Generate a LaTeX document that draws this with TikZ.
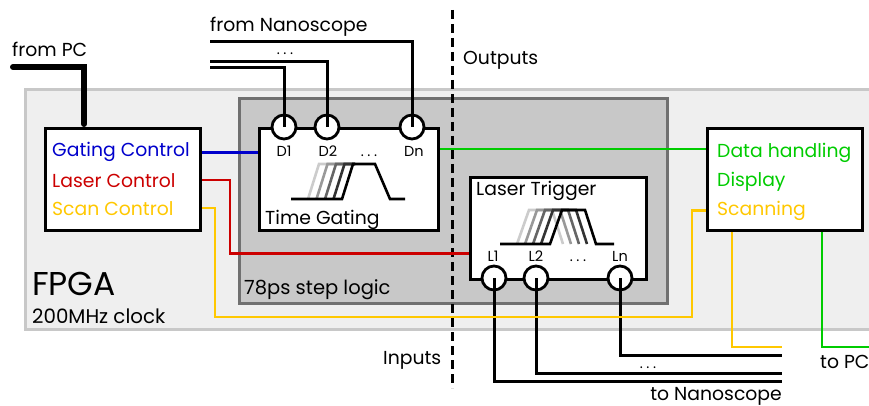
\documentclass[tikz,border=0pt]{standalone}
\usepackage{fontspec}
\setmainfont{Poppins}
\usepackage{xcolor}
\usetikzlibrary{positioning}
\definecolor{ctlblue}{RGB}{0,0,204}
\definecolor{ctlred}{RGB}{204,0,0}
\definecolor{ctlyellow}{RGB}{255,200,0}
\definecolor{ctlgreen}{RGB}{0,204,0}
\definecolor{fpgafill}{RGB}{239,239,239}
\definecolor{fpgaedge}{RGB}{200,200,200}
\definecolor{stepfill}{RGB}{200,200,200}
\definecolor{stepedge}{RGB}{112,112,112}
\newcommand{\spdots}{.\hspace{3.5pt}.\hspace{3.5pt}.}

\begin{document}
\begin{tikzpicture}[x=1pt, y=-1pt, font=\fontsize{18.8}{22}\selectfont,
  blk/.style={draw, line width=3pt, fill=white, anchor=north west, inner sep=0pt},
  port/.style={circle, draw, line width=2.8pt, fill=white, minimum size=24pt, inner sep=0pt},
  lbl/.style={anchor=base west, inner sep=0pt},
  plbl/.style={anchor=base, inner sep=0pt, font=\fontsize{14.5}{16}\selectfont},
  wire/.style={line width=3pt},
  sig/.style={line width=2.6pt},
  pulse/.style={line width=2.6pt}]
\clip (0,0) rectangle (869,406);
\node[blk, draw=fpgaedge, fill=fpgafill, minimum width=880pt, minimum height=240pt] (fpga) at (24,88) {};
\node[blk, draw=stepedge, fill=stepfill, minimum width=428pt, minimum height=205pt] (steplogic) at (238,97) {};
\coordinate (divtop) at (452,10);
\coordinate (divbot) at (452,388);
\draw[line width=3pt, dash pattern=on 9pt off 5pt] (divtop) -- (divbot);
\node[blk, minimum width=155pt, minimum height=102pt] (ctrl) at (44,127) {};
\node[blk, minimum width=179pt, minimum height=102pt] (gating) at (258,127) {};
\node[blk, minimum width=176pt, minimum height=102pt] (trigger) at (469,176) {};
\node[blk, minimum width=155pt, minimum height=102pt] (data) at (706,127) {};
% texts
\node[lbl, font=\fontsize{33}{36}\selectfont] (fpgatxt) at (32,295) {FPGA};
\node[lbl, font=\fontsize{19.8}{22}\selectfont] (clk) at (32,323) {200MHz clock};
\node[lbl, font=\fontsize{19.5}{22}\selectfont] (steptxt) at (244,294) {78ps step logic};
\node[lbl, text=ctlblue] (gatctl) at (52,157) {Gating Control};
\node[lbl, text=ctlred] (lasctl) at (52,187) {Laser Control};
\node[lbl, text=ctlyellow] (scanctl) at (52,215) {Scan Control};
\node[lbl] (tgtxt) at (265,224) {Time Gating};
\node[lbl] (lttxt) at (476,195) {Laser Trigger};
\node[lbl, text=ctlgreen] (datatxt) at (717,158) {Data handling};
\node[lbl, text=ctlgreen] (disptxt) at (717,186) {Display};
\node[lbl, text=ctlyellow] (scantxt) at (717,215) {Scanning};
\node[lbl] (frompc) at (12,57) {from PC};
\node[lbl] (fromscope) at (210,32) {from Nanoscope};
\node[lbl] (outtxt) at (463,65) {Outputs};
\node[lbl] (intxt) at (383,364) {Inputs};
\node[anchor=base east, inner sep=0pt] (toscope) at (782,400) {to Nanoscope};
\node[lbl] (topc) at (820,368) {to PC};
% ports
\node[port] (d1) at (284,127) {};
\node[port] (d2) at (327,127) {};
\node[port] (dn) at (412,127) {};
\node[port] (l1) at (494,278) {};
\node[port] (l2) at (536,278) {};
\node[port] (ln) at (620,278) {};
\node[plbl] (d1txt) at (284,157) {D1};
\node[plbl] (d2txt) at (328,157) {D2};
\node[plbl] (ddots) at (369,157) {\spdots};
\node[plbl] (dntxt) at (414,157) {Dn};
\node[plbl] (l1txt) at (493,261) {L1};
\node[plbl] (l2txt) at (536,261) {L2};
\node[plbl] (ldots) at (578,261) {\spdots};
\node[plbl] (lntxt) at (620,261) {Ln};
\node[plbl] (indots) at (285,55) {\spdots};
\node[plbl] (outdots) at (648,368) {\spdots};
% pulses
\draw[pulse, black!20] (308,199) -- (319,164) -- (355,164);
\draw[pulse, black!40] (316.5,199) -- (327.5,164) -- (355,164);
\draw[pulse, black!60] (325,199) -- (336,164) -- (355,164);
\draw[pulse, black!80] (333.5,199) -- (344.5,164) -- (355,164);
\draw[pulse] (291,199) -- (342,199) -- (353,164) -- (375,164) -- (390,199) -- (405,199);
\draw[pulse, black!20] (517,244) -- (529,210) -- (552,210) -- (563,244);
\draw[pulse, black!40] (525,244) -- (537,210) -- (560,210) -- (571,244);
\draw[pulse, black!60] (533,244) -- (545,210) -- (568,210) -- (579,244);
\draw[pulse, black!80] (541,244) -- (553,210) -- (576,210) -- (587,244);
\draw[pulse] (500,244) -- (550,244) -- (562,210) -- (585,210) -- (596,244) -- (614,244);
% connectors
\coordinate (pc) at (13,67);
\coordinate (nanoA) at (210,42);
\coordinate (nanoB) at (210,62);
\coordinate (nanoC) at (210,68);
\coordinate (scopeA) at (782,355);
\coordinate (scopeB) at (782,373);
\coordinate (scopeC) at (782,381);
\coordinate (scanturn) at (692,317);
\coordinate (pcA) at (782,347);
\coordinate (pcB) at (880,347);
\draw[line width=6pt, line cap=round] (pc) -| ([xshift=40pt, yshift=3pt]ctrl.north west);
\draw[wire] (nanoA) -| (dn.center);
\draw[wire] (nanoB) -| (d2.center);
\draw[wire] (nanoC) -| (d1.center);
\draw[wire] (ln.center) |- (scopeA);
\draw[wire] (l2.center) |- (scopeB);
\draw[wire] (l1.center) |- (scopeC);
\draw[sig, ctlblue] (ctrl.east |- gatctl.west) -- (gating.west |- gatctl.west);
\draw[sig, ctlred] (ctrl.east |- lasctl.west) -- ++(28,0) |- ([yshift=-25pt]trigger.west);
\draw[sig, ctlyellow] (ctrl.east |- scanctl.west) -- ++(13,0) |- (scanturn) |- (data.west |- scantxt.west);
\draw[sig, ctlgreen] ([yshift=-22pt]gating.north east) -- ([yshift=-22pt]data.north west);
\draw[sig, ctlyellow] ([xshift=26pt]data.south west) |- (pcA);
\draw[sig, ctlgreen] ([xshift=116pt]data.south west) |- (pcB);
\end{tikzpicture}
\end{document}
